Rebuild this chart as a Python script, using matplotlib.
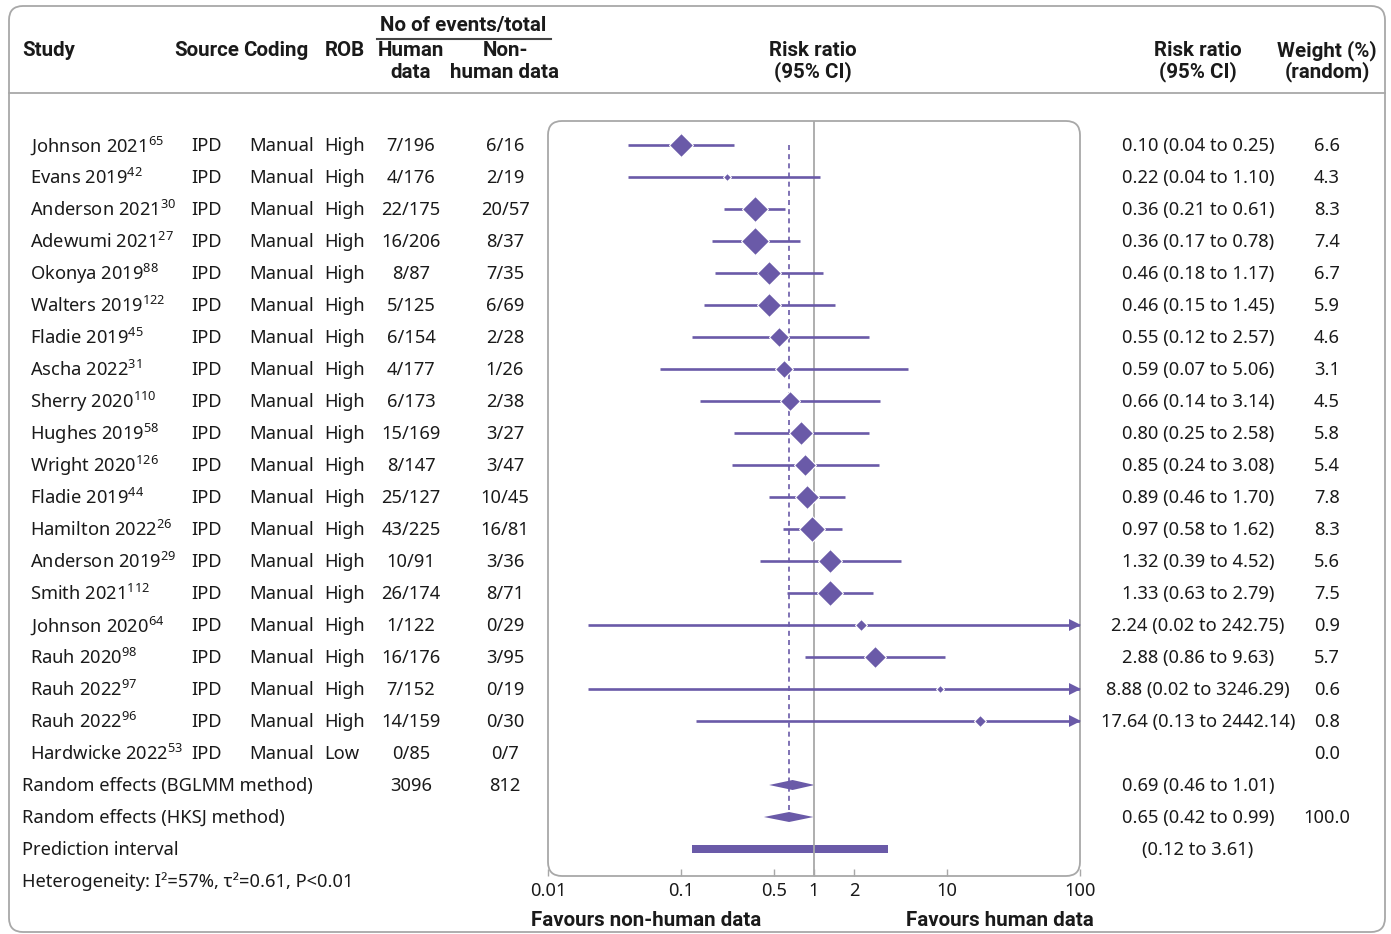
import numpy as np
import matplotlib
matplotlib.use("Agg")
import matplotlib.pyplot as plt
from matplotlib.patches import FancyBboxPatch
from matplotlib.transforms import blended_transform_factory

plt.rcParams['font.family'] = ['Noto Sans', 'DejaVu Sans']
plt.rcParams['mathtext.fontset'] = 'custom'
plt.rcParams['mathtext.rm'] = 'Noto Sans'

# ---- data ----
studies = ["Johnson 2021", "Evans 2019", "Anderson 2021", "Adewumi 2021",
           "Okonya 2019", "Walters 2019", "Fladie 2019", "Ascha 2022",
           "Sherry 2020", "Hughes 2019", "Wright 2020", "Fladie 2019",
           "Hamilton 2022", "Anderson 2019", "Smith 2021", "Johnson 2020",
           "Rauh 2020", "Rauh 2022", "Rauh 2022", "Hardwicke 2022"]
refs = [65, 42, 30, 27, 88, 122, 45, 31, 110, 58, 126, 44, 26, 29, 112, 64,
        98, 97, 96, 53]
source = ["IPD"] * 20
coding = ["Manual"] * 20
rob = ["High"] * 19 + ["Low"]
human = ["7/196", "4/176", "22/175", "16/206", "8/87", "5/125", "6/154",
         "4/177", "6/173", "15/169", "8/147", "25/127", "43/225", "10/91",
         "26/174", "1/122", "16/176", "7/152", "14/159", "0/85"]
nonhuman = ["6/16", "2/19", "20/57", "8/37", "7/35", "6/69", "2/28", "1/26",
            "2/38", "3/27", "3/47", "10/45", "16/81", "3/36", "8/71", "0/29",
            "3/95", "0/19", "0/30", "0/7"]
rr = [0.10, 0.22, 0.36, 0.36, 0.46, 0.46, 0.55, 0.59, 0.66, 0.80, 0.85, 0.89,
      0.97, 1.32, 1.33, 2.24, 2.88, 8.88, 17.64, np.nan]
rr_lo = [0.04, 0.04, 0.21, 0.17, 0.18, 0.15, 0.12, 0.07, 0.14, 0.25, 0.24,
         0.46, 0.58, 0.39, 0.63, 0.02, 0.86, 0.02, 0.13, np.nan]
rr_hi = [0.25, 1.10, 0.61, 0.78, 1.17, 1.45, 2.57, 5.06, 3.14, 2.58, 3.08,
         1.70, 1.62, 4.52, 2.79, 242.75, 9.63, 3246.29, 2442.14, np.nan]
weight = [6.6, 4.3, 8.3, 7.4, 6.7, 5.9, 4.6, 3.1, 4.5, 5.8, 5.4, 7.8, 8.3,
          5.6, 7.5, 0.9, 5.7, 0.6, 0.8, 0.0]
# drawn box size of each study (as it appears in the figure)
box_size = [11.8, 4.3, 13.2, 13.6, 12, 12.2, 9.7, 9, 9.9, 12.2, 10.8, 11.9,
            13.2, 12, 13, 5.6, 11.4, 4.0, 5.6, 0]

summary_labels = ["Random effects (BGLMM method)", "Random effects (HKSJ method)"]
summary_rr = [0.69, 0.65]
summary_lo = [0.46, 0.42]
summary_hi = [1.01, 0.99]
summary_weight = ["", "100.0"]
total_human, total_nonhuman = 3096, 812
pi_lo, pi_hi = 0.12, 3.61
heterogeneity = "Heterogeneity: I\u00b2=57%, \u03c4\u00b2=0.61, P<0.01"

xticks = [0.01, 0.1, 0.5, 1, 2, 10, 100]
xticklabels = ["0.01", "0.1", "0.5", "1", "2", "10", "100"]

purple = "#6a5aa8"
grey = "#a8a8a8"
ink = "#1a1a1a"
fs = 13.2
bold_family = ['Roboto', 'DejaVu Sans']

W, H = 1391, 934
fig = plt.figure(figsize=(W / 100, H / 100), dpi=100)
bg = fig.add_axes([0, 0, 1, 1])
bg.set_xlim(0, W)
bg.set_ylim(H, 0)
bg.axis('off')

# outer frame and header rule
bg.add_patch(FancyBboxPatch((9, 6), 1376, 926, boxstyle="round,pad=0,rounding_size=14",
                            ec=grey, fc='none', lw=1.3))
bg.plot([9, 1385], [93, 93], color=grey, lw=1.3)
# plot frame
bg.add_patch(FancyBboxPatch((548, 121), 532, 755, boxstyle="round,pad=0,rounding_size=14",
                            ec=grey, fc='none', lw=1.3))

# forest axes: row i sits at pixel 145 + 32*i
ax = fig.add_axes([548 / W, 1 - 876 / H, 532 / W, 755 / H])
ax.set_xscale('log')
ax.set_xlim(0.01, 100)
ax.set_ylim((876 - 145) / 32, (121 - 145) / 32)
ax.patch.set_visible(False)
for s in ax.spines.values():
    s.set_visible(False)
ax.set_yticks([])
ax.set_xticks(xticks)
ax.set_xticklabels(xticklabels)
ax.minorticks_off()
ax.tick_params(axis='x', direction='in', length=5, color=grey, width=1,
               labelsize=fs, labelcolor=ink, pad=4)

ax.axvline(1, color=grey, lw=1.3)
n = len(studies)
ax.plot([summary_rr[1]] * 2, [0, n + 1], color=purple, lw=1.2, ls=(0, (3, 2.5)))

for i in range(n):
    if np.isnan(rr[i]):
        continue
    hi = min(rr_hi[i], 100)
    ax.plot([rr_lo[i], hi], [i, i], color=purple, lw=1.9, solid_capstyle='butt')
    if rr_hi[i] > 100:
        ax.plot(92, i, marker='>', ms=8, color=purple, mew=0)
    ax.plot(rr[i], i, marker='D', ms=box_size[i] / 0.982, color=purple,
            mec='white', mew=0.8)

for k in range(2):
    y = n + k
    h = 5 / 32
    ax.fill([summary_lo[k], summary_rr[k], summary_hi[k], summary_rr[k]],
            [y, y - h, y, y + h], color=purple, lw=0)

y = n + 2
h = 4 / 32
ax.fill([pi_lo, pi_lo, pi_hi, pi_hi], [y - h, y + h, y + h, y - h], color=purple, lw=0)

# ---- text columns ----
tr = blended_transform_factory(bg.transData, ax.transData)


def put(x, y, s, ha='left', **kw):
    bg.text(x, y + 0.03, s, ha=ha, va='center', fontsize=fs, color=ink, transform=tr, **kw)


for i in range(n):
    put(30, i, studies[i] + r"$^{\mathrm{%d}}$" % refs[i])
    put(191, i, source[i])
    put(249, i, coding[i])
    put(324, i, rob[i])
    put(411, i, human[i], ha='center')
    put(505, i, nonhuman[i], ha='center')
    if not np.isnan(rr[i]):
        put(1198, i, "%.2f (%.2f to %.2f)" % (rr[i], rr_lo[i], rr_hi[i]), ha='center')
    put(1327, i, "%.1f" % weight[i], ha='center')

for k in range(2):
    y = n + k
    put(22, y, summary_labels[k])
    put(1198, y, "%.2f (%.2f to %.2f)" % (summary_rr[k], summary_lo[k], summary_hi[k]),
        ha='center')
    put(1327, y, summary_weight[k], ha='center')
put(411, n, str(total_human), ha='center')
put(505, n, str(total_nonhuman), ha='center')
put(22, n + 2, "Prediction interval")
put(1198, n + 2, "(%.2f to %.2f)" % (pi_lo, pi_hi), ha='center')
put(22, n + 3, heterogeneity)


# ---- header ----
def head(x, y, s, ha='left'):
    bg.text(x, y, s, ha=ha, va='center', fontsize=14.8, color=ink,
            fontweight='bold', family=bold_family)


head(22, 51, "Study")
head(174, 51, "Source")
head(243, 51, "Coding")
head(325, 51, "ROB")
head(463, 26, "No of events/total", ha='center')
bg.plot([377, 551], [39, 39], color='#444444', lw=1.5)
head(411, 51, "Human", ha='center')
head(411, 72, "data", ha='center')
head(505, 51, "Non-", ha='center')
head(505, 72, "human data", ha='center')
head(813, 51, "Risk ratio", ha='center')
head(813, 72, "(95% CI)", ha='center')
head(1198, 51, "Risk ratio", ha='center')
head(1198, 72, "(95% CI)", ha='center')
head(1327, 51, "Weight (%)", ha='center')
head(1327, 72, "(random)", ha='center')

head(646, 920, "Favours non-human data", ha='center')
head(1000, 920, "Favours human data", ha='center')

fig.savefig("out.png", dpi=100)
